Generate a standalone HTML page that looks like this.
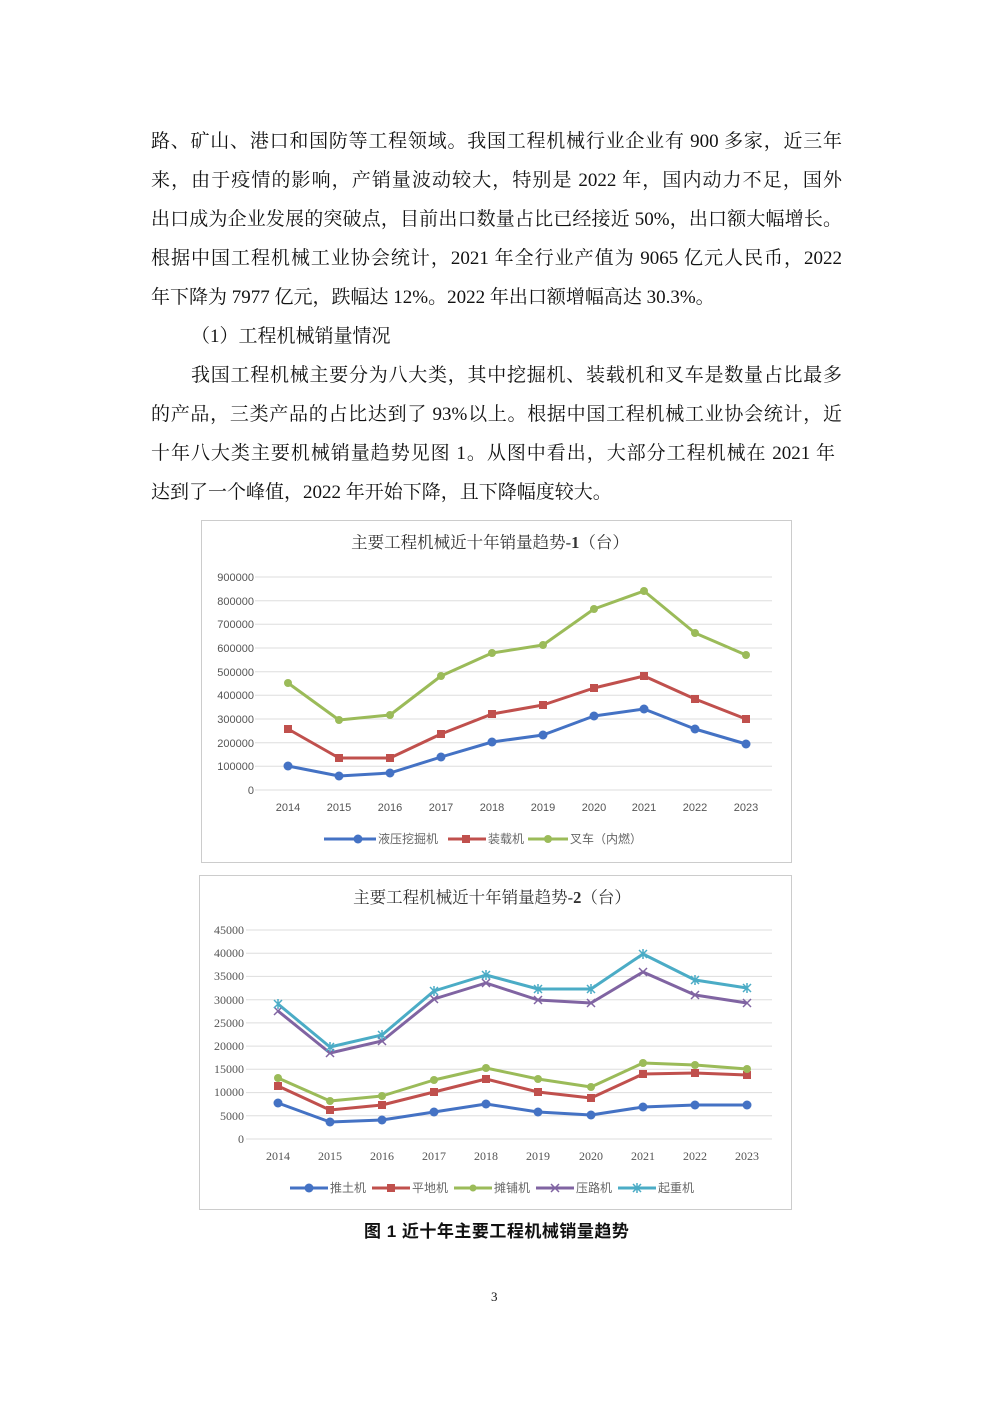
<!DOCTYPE html>
<html><head><meta charset="utf-8"><style>
body{margin:0;background:#fff;}
#p{position:relative;width:992px;height:1403px;overflow:hidden;font-family:"Liberation Serif","Noto Serif CJK SC","Noto Sans CJK SC",serif;color:#111;}
.l{position:absolute;left:151px;width:691px;font-size:19px;line-height:24px;white-space:nowrap;text-align:justify;text-align-last:justify;}
.n{text-align-last:left;}
svg{position:absolute;left:0;top:0;}
</style></head><body><div id="p">
<div class="l" style="top:130px">路、矿山、港口和国防等工程领域。我国工程机械行业企业有 900 多家，近三年</div>
<div class="l" style="top:169px">来，由于疫情的影响，产销量波动较大，特别是 2022 年，国内动力不足，国外</div>
<div class="l" style="top:208px">出口成为企业发展的突破点，目前出口数量占比已经接近 50%，出口额大幅增长。</div>
<div class="l" style="top:247px">根据中国工程机械工业协会统计，2021 年全行业产值为 9065 亿元人民币，2022</div>
<div class="l n" style="top:286px">年下降为 7977 亿元，跌幅达 12%。2022 年出口额增幅高达 30.3%。</div>
<div class="l n" style="top:325px;left:191px">（1）工程机械销量情况</div>
<div class="l" style="top:364px;left:191px;width:651px">我国工程机械主要分为八大类，其中挖掘机、装载机和叉车是数量占比最多</div>
<div class="l" style="top:403px">的产品，三类产品的占比达到了 93%以上。根据中国工程机械工业协会统计，近</div>
<div class="l" style="top:442px;width:684px">十年八大类主要机械销量趋势见图 1。从图中看出，大部分工程机械在 2021 年</div>
<div class="l n" style="top:481px">达到了一个峰值，2022 年开始下降，且下降幅度较大。</div>
<div class="l n" style="top:1220px;left:364px;font-size:17px;letter-spacing:0.5px;font-family:'Liberation Sans','Noto Sans CJK SC',sans-serif;font-weight:bold">图 1  近十年主要工程机械销量趋势</div>
<div class="l n" style="top:1285px;left:491px;font-size:13px">3</div>
<svg width="992" height="1403" font-family="Liberation Sans,Noto Sans CJK SC,sans-serif">
<rect x="201.5" y="520.5" width="590" height="342" fill="none" stroke="#ccc"/>
<text x="490" y="548" text-anchor="middle" font-size="16.5" fill="#333" font-family="Liberation Serif,Noto Serif CJK SC,serif">主要工程机械近十年销量趋势-<tspan font-weight="bold">1</tspan>（台）</text>
<g stroke="#ddd" stroke-width="1">
<line x1="255" x2="772" y1="577" y2="577"/><line x1="255" x2="772" y1="600.7" y2="600.7"/><line x1="255" x2="772" y1="624.3" y2="624.3"/><line x1="255" x2="772" y1="648" y2="648"/><line x1="255" x2="772" y1="671.7" y2="671.7"/><line x1="255" x2="772" y1="695.3" y2="695.3"/><line x1="255" x2="772" y1="719" y2="719"/><line x1="255" x2="772" y1="742.7" y2="742.7"/><line x1="255" x2="772" y1="766.3" y2="766.3"/><line x1="255" x2="772" y1="790" y2="790"/>
</g>
<g font-size="11" fill="#555" text-anchor="end">
<text x="254" y="581">900000</text><text x="254" y="605">800000</text><text x="254" y="628">700000</text><text x="254" y="652">600000</text><text x="254" y="676">500000</text><text x="254" y="699">400000</text><text x="254" y="723">300000</text><text x="254" y="747">200000</text><text x="254" y="770">100000</text><text x="254" y="794">0</text>
</g>
<g font-size="11" fill="#555" text-anchor="middle">
<text x="288" y="811">2014</text><text x="339" y="811">2015</text><text x="390" y="811">2016</text><text x="441" y="811">2017</text><text x="492" y="811">2018</text><text x="543" y="811">2019</text><text x="594" y="811">2020</text><text x="644" y="811">2021</text><text x="695" y="811">2022</text><text x="746" y="811">2023</text>
</g>
<g fill="none" stroke-width="3" stroke-linejoin="round">
<polyline stroke="#4472c4" points="288,766 339,776 390,773 441,757 492,742 543,735 594,716 644,709 695,729 746,744"/>
<polyline stroke="#c0504d" points="288,729 339,758 390,758 441,734 492,714 543,705 594,688 644,676 695,699 746,719"/>
<polyline stroke="#9bbb59" points="288,683 339,720 390,715 441,676 492,653 543,645 594,609 644,591 695,633 746,655"/>
</g>
<g fill="#4472c4"><circle cx="288" cy="766" r="4.5"/><circle cx="339" cy="776" r="4.5"/><circle cx="390" cy="773" r="4.5"/><circle cx="441" cy="757" r="4.5"/><circle cx="492" cy="742" r="4.5"/><circle cx="543" cy="735" r="4.5"/><circle cx="594" cy="716" r="4.5"/><circle cx="644" cy="709" r="4.5"/><circle cx="695" cy="729" r="4.5"/><circle cx="746" cy="744" r="4.5"/></g>
<g fill="#c0504d"><rect x="284" y="725" width="8" height="8"/><rect x="335" y="754" width="8" height="8"/><rect x="386" y="754" width="8" height="8"/><rect x="437" y="730" width="8" height="8"/><rect x="488" y="710" width="8" height="8"/><rect x="539" y="701" width="8" height="8"/><rect x="590" y="684" width="8" height="8"/><rect x="640" y="672" width="8" height="8"/><rect x="691" y="695" width="8" height="8"/><rect x="742" y="715" width="8" height="8"/></g>
<g fill="#9bbb59"><circle cx="288" cy="683" r="4"/><circle cx="339" cy="720" r="4"/><circle cx="390" cy="715" r="4"/><circle cx="441" cy="676" r="4"/><circle cx="492" cy="653" r="4"/><circle cx="543" cy="645" r="4"/><circle cx="594" cy="609" r="4"/><circle cx="644" cy="591" r="4"/><circle cx="695" cy="633" r="4"/><circle cx="746" cy="655" r="4"/></g>
<g stroke-width="3">
<line x1="324" x2="376" y1="839" y2="839" stroke="#4472c4"/><circle cx="358" cy="839" r="4.5" fill="#4472c4"/>
<line x1="448" x2="486" y1="839" y2="839" stroke="#c0504d"/><rect x="462" y="835" width="8" height="8" fill="#c0504d"/>
<line x1="528" x2="568" y1="839" y2="839" stroke="#9bbb59"/><circle cx="548" cy="839" r="4" fill="#9bbb59"/>
</g>
<g font-size="12" fill="#666"><text x="378" y="843">液压挖掘机</text><text x="488" y="843">装载机</text><text x="570" y="843">叉车（内燃）</text></g>

<rect x="199.5" y="875.5" width="592" height="334" fill="none" stroke="#ccc"/>
<text x="492" y="903" text-anchor="middle" font-size="16.5" fill="#333" font-family="Liberation Serif,Noto Serif CJK SC,serif">主要工程机械近十年销量趋势-<tspan font-weight="bold">2</tspan>（台）</text>
<g stroke="#ddd">
<line x1="246" x2="772" y1="930" y2="930"/><line x1="246" x2="772" y1="953.2" y2="953.2"/><line x1="246" x2="772" y1="976.4" y2="976.4"/><line x1="246" x2="772" y1="999.7" y2="999.7"/><line x1="246" x2="772" y1="1022.9" y2="1022.9"/><line x1="246" x2="772" y1="1046.1" y2="1046.1"/><line x1="246" x2="772" y1="1069.3" y2="1069.3"/><line x1="246" x2="772" y1="1092.6" y2="1092.6"/><line x1="246" x2="772" y1="1115.8" y2="1115.8"/><line x1="246" x2="772" y1="1139" y2="1139"/>
</g>
<g font-size="12" fill="#555" text-anchor="end" font-family="Liberation Serif,serif">
<text x="244" y="934">45000</text><text x="244" y="957">40000</text><text x="244" y="980">35000</text><text x="244" y="1004">30000</text><text x="244" y="1027">25000</text><text x="244" y="1050">20000</text><text x="244" y="1073">15000</text><text x="244" y="1096">10000</text><text x="244" y="1120">5000</text><text x="244" y="1143">0</text>
</g>
<g font-size="12" fill="#555" text-anchor="middle" font-family="Liberation Serif,serif">
<text x="278" y="1160">2014</text><text x="330" y="1160">2015</text><text x="382" y="1160">2016</text><text x="434" y="1160">2017</text><text x="486" y="1160">2018</text><text x="538" y="1160">2019</text><text x="591" y="1160">2020</text><text x="643" y="1160">2021</text><text x="695" y="1160">2022</text><text x="747" y="1160">2023</text>
</g>
<g fill="none" stroke-width="3" stroke-linejoin="round">
<polyline stroke="#4472c4" points="278,1103 330,1122 382,1120 434,1112 486,1104 538,1112 591,1115 643,1107 695,1105 747,1105"/>
<polyline stroke="#c0504d" points="278,1086 330,1110 382,1105 434,1092 486,1079 538,1092 591,1098 643,1074 695,1073 747,1075"/>
<polyline stroke="#9bbb59" points="278,1078 330,1101 382,1096 434,1080 486,1068 538,1079 591,1087 643,1063 695,1065 747,1069"/>
<polyline stroke="#8064a2" points="278,1011 330,1053 382,1041 434,999 486,983 538,1000 591,1003 643,972 695,995 747,1003"/>
<polyline stroke="#4bacc6" points="278,1004 330,1047 382,1035 434,991 486,975 538,989 591,989 643,954 695,980 747,988"/>
</g>
<g fill="#4472c4"><circle cx="278" cy="1103" r="4.5"/><circle cx="330" cy="1122" r="4.5"/><circle cx="382" cy="1120" r="4.5"/><circle cx="434" cy="1112" r="4.5"/><circle cx="486" cy="1104" r="4.5"/><circle cx="538" cy="1112" r="4.5"/><circle cx="591" cy="1115" r="4.5"/><circle cx="643" cy="1107" r="4.5"/><circle cx="695" cy="1105" r="4.5"/><circle cx="747" cy="1105" r="4.5"/></g>
<g fill="#c0504d"><rect x="274" y="1082" width="8" height="8"/><rect x="326" y="1106" width="8" height="8"/><rect x="378" y="1101" width="8" height="8"/><rect x="430" y="1088" width="8" height="8"/><rect x="482" y="1075" width="8" height="8"/><rect x="534" y="1088" width="8" height="8"/><rect x="587" y="1094" width="8" height="8"/><rect x="639" y="1070" width="8" height="8"/><rect x="691" y="1069" width="8" height="8"/><rect x="743" y="1071" width="8" height="8"/></g>
<g fill="#9bbb59"><circle cx="278" cy="1078" r="4"/><circle cx="330" cy="1101" r="4"/><circle cx="382" cy="1096" r="4"/><circle cx="434" cy="1080" r="4"/><circle cx="486" cy="1068" r="4"/><circle cx="538" cy="1079" r="4"/><circle cx="591" cy="1087" r="4"/><circle cx="643" cy="1063" r="4"/><circle cx="695" cy="1065" r="4"/><circle cx="747" cy="1069" r="4"/></g>
<g stroke="#8064a2" stroke-width="1.5">
<path d="M274,1007l8,8m0,-8l-8,8M326,1049l8,8m0,-8l-8,8M378,1037l8,8m0,-8l-8,8M430,995l8,8m0,-8l-8,8M482,979l8,8m0,-8l-8,8M534,996l8,8m0,-8l-8,8M587,999l8,8m0,-8l-8,8M639,968l8,8m0,-8l-8,8M691,991l8,8m0,-8l-8,8M743,999l8,8m0,-8l-8,8"/>
</g>
<g stroke="#4bacc6" stroke-width="1.5">
<path d="M274,1000l8,8m0,-8l-8,8M278,999v10M326,1043l8,8m0,-8l-8,8M330,1042v10M378,1031l8,8m0,-8l-8,8M382,1030v10M430,987l8,8m0,-8l-8,8M434,986v10M482,971l8,8m0,-8l-8,8M486,970v10M534,985l8,8m0,-8l-8,8M538,984v10M587,985l8,8m0,-8l-8,8M591,984v10M639,950l8,8m0,-8l-8,8M643,949v10M691,976l8,8m0,-8l-8,8M695,975v10M743,984l8,8m0,-8l-8,8M747,983v10"/>
</g>
<g stroke-width="3">
<line x1="290" x2="328" y1="1188" y2="1188" stroke="#4472c4"/><circle cx="309" cy="1188" r="4.5" fill="#4472c4"/>
<line x1="372" x2="410" y1="1188" y2="1188" stroke="#c0504d"/><rect x="387" y="1184" width="8" height="8" fill="#c0504d"/>
<line x1="454" x2="492" y1="1188" y2="1188" stroke="#9bbb59"/><circle cx="473" cy="1188" r="3.5" fill="#9bbb59"/>
<line x1="536" x2="574" y1="1188" y2="1188" stroke="#8064a2"/>
<line x1="618" x2="656" y1="1188" y2="1188" stroke="#4bacc6"/>
</g>
<path d="M551,1184l8,8m0,-8l-8,8" stroke="#8064a2" stroke-width="1.5"/>
<path d="M633,1184l8,8m0,-8l-8,8M637,1183v10" stroke="#4bacc6" stroke-width="1.5"/>
<g font-size="12" fill="#666"><text x="330" y="1192">推土机</text><text x="412" y="1192">平地机</text><text x="494" y="1192">摊铺机</text><text x="576" y="1192">压路机</text><text x="658" y="1192">起重机</text></g>
</svg>
</div></body></html>
